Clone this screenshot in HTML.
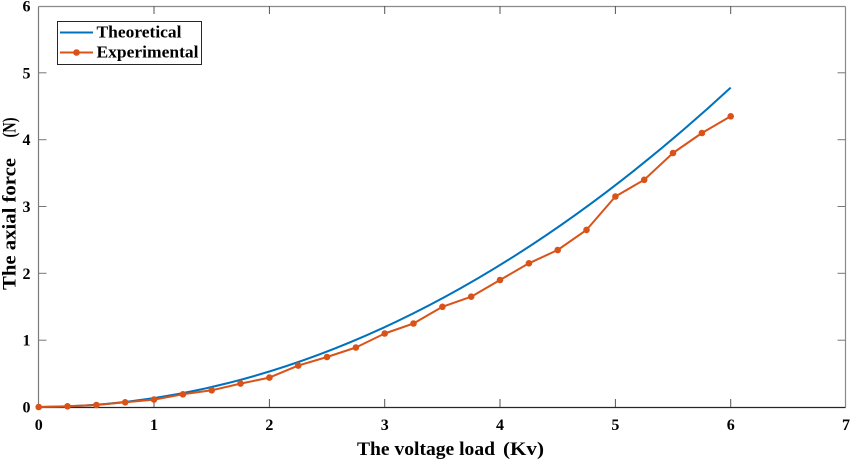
<!DOCTYPE html>
<html>
<head>
<meta charset="utf-8">
<style>
  html,body{margin:0;padding:0;background:#fff;}
  svg{display:block;}
  text{font-family:"Liberation Serif","Times New Roman",serif;font-weight:bold;fill:#000;}
</style>
</head>
<body>
<svg width="850" height="461" viewBox="0 0 850 461" xmlns="http://www.w3.org/2000/svg">
  <rect x="0" y="0" width="850" height="461" fill="#fff"/>
  <!-- box -->
  <line x1="38.5" y1="6.5" x2="845.5" y2="6.5" stroke="#8a8a8a" stroke-width="1.2"/>
  <line x1="845.5" y1="6.5" x2="845.5" y2="407.5" stroke="#8a8a8a" stroke-width="1.2"/>
  <line x1="38.5" y1="6.5" x2="38.5" y2="407.5" stroke="#7a7a7a" stroke-width="1.2"/>
  <line x1="38.5" y1="407.5" x2="845.5" y2="407.5" stroke="#262626" stroke-width="1.2"/>
  <!-- x ticks bottom & top -->
  <g stroke="#555" stroke-width="1">
    <line x1="154" y1="407" x2="154" y2="399"/>
    <line x1="269.4" y1="407" x2="269.4" y2="399"/>
    <line x1="384.7" y1="407" x2="384.7" y2="399"/>
    <line x1="500" y1="407" x2="500" y2="399"/>
    <line x1="615.4" y1="407" x2="615.4" y2="399"/>
    <line x1="730.7" y1="407" x2="730.7" y2="399"/>
    <line x1="154" y1="6" x2="154" y2="14"/>
    <line x1="269.4" y1="6" x2="269.4" y2="14"/>
    <line x1="384.7" y1="6" x2="384.7" y2="14"/>
    <line x1="500" y1="6" x2="500" y2="14"/>
    <line x1="615.4" y1="6" x2="615.4" y2="14"/>
    <line x1="730.7" y1="6" x2="730.7" y2="14"/>
  </g>
  <!-- y ticks left & right -->
  <g stroke="#777" stroke-width="1">
    <line x1="38.5" y1="340.2" x2="46.5" y2="340.2"/>
    <line x1="38.5" y1="273.3" x2="46.5" y2="273.3"/>
    <line x1="38.5" y1="206.5" x2="46.5" y2="206.5"/>
    <line x1="38.5" y1="139.7" x2="46.5" y2="139.7"/>
    <line x1="38.5" y1="72.8" x2="46.5" y2="72.8"/>
    <line x1="845.5" y1="340.2" x2="837.5" y2="340.2"/>
    <line x1="845.5" y1="273.3" x2="837.5" y2="273.3"/>
    <line x1="845.5" y1="206.5" x2="837.5" y2="206.5"/>
    <line x1="845.5" y1="139.7" x2="837.5" y2="139.7"/>
    <line x1="845.5" y1="72.8" x2="837.5" y2="72.8"/>
  </g>
  <!-- x tick labels -->
  <g font-size="16" text-anchor="middle">
    <text x="38.7" y="430">0</text>
    <text x="154" y="430">1</text>
    <text x="269.4" y="430">2</text>
    <text x="384.7" y="430">3</text>
    <text x="500" y="430">4</text>
    <text x="615.4" y="430">5</text>
    <text x="730.7" y="430">6</text>
    <text x="846" y="430">7</text>
  </g>
  <!-- y tick labels -->
  <g font-size="16" text-anchor="end">
    <text x="30.5" y="412.5">0</text>
    <text x="30.5" y="345.7">1</text>
    <text x="30.5" y="278.8">2</text>
    <text x="30.5" y="212">3</text>
    <text x="30.5" y="145.2">4</text>
    <text x="30.5" y="78.3">5</text>
    <text x="30.5" y="11.5">6</text>
  </g>
  <!-- axis labels -->
  <text x="357" y="455" font-size="19" textLength="138" lengthAdjust="spacingAndGlyphs">The voltage load</text>
  <text x="503" y="455" font-size="19" textLength="41" lengthAdjust="spacingAndGlyphs">(Kv)</text>
  <text transform="translate(15.5,290) rotate(-90)" font-size="19" textLength="132" lengthAdjust="spacingAndGlyphs">The axial force</text>
  <text transform="translate(15.5,137.5) rotate(-90)" font-size="19" textLength="20" lengthAdjust="spacingAndGlyphs">(N)</text>
  <!-- theoretical: exact parabola -->
  <path d="M38.7,407 Q384.7,407 730.7,87.6" fill="none" stroke="#0072BD" stroke-width="2"/>
  <!-- experimental -->
  <polyline fill="none" stroke="#D95319" stroke-width="2" stroke-linejoin="round"
    points="38.7,407 67.5,406.3 96.4,405 125.2,402.3 154,399.6 182.9,394.3 211.7,390.3 240.5,383.6 269.4,377.6 298.2,365.6 327,357 355.9,347.5 384.7,333.5 413.5,323.5 442.4,306.8 471.2,296.7 500,280 528.9,263.3 557.7,250 586.5,229.9 615.4,196.5 644.2,179.8 673,153 701.9,133 730.7,116.3"/>
  <g fill="#D95319">
    <circle cx="38.7" cy="407" r="3.3"/>
    <circle cx="67.5" cy="406.3" r="3.3"/>
    <circle cx="96.4" cy="405" r="3.3"/>
    <circle cx="125.2" cy="402.3" r="3.3"/>
    <circle cx="154" cy="399.6" r="3.3"/>
    <circle cx="182.9" cy="394.3" r="3.3"/>
    <circle cx="211.7" cy="390.3" r="3.3"/>
    <circle cx="240.5" cy="383.6" r="3.3"/>
    <circle cx="269.4" cy="377.6" r="3.3"/>
    <circle cx="298.2" cy="365.6" r="3.3"/>
    <circle cx="327" cy="357" r="3.3"/>
    <circle cx="355.9" cy="347.5" r="3.3"/>
    <circle cx="384.7" cy="333.5" r="3.3"/>
    <circle cx="413.5" cy="323.5" r="3.3"/>
    <circle cx="442.4" cy="306.8" r="3.3"/>
    <circle cx="471.2" cy="296.7" r="3.3"/>
    <circle cx="500" cy="280" r="3.3"/>
    <circle cx="528.9" cy="263.3" r="3.3"/>
    <circle cx="557.7" cy="250" r="3.3"/>
    <circle cx="586.5" cy="229.9" r="3.3"/>
    <circle cx="615.4" cy="196.5" r="3.3"/>
    <circle cx="644.2" cy="179.8" r="3.3"/>
    <circle cx="673" cy="153" r="3.3"/>
    <circle cx="701.9" cy="133" r="3.3"/>
    <circle cx="730.7" cy="116.3" r="3.3"/>
  </g>
  <!-- legend -->
  <rect x="57.5" y="21.5" width="144" height="43" fill="#fff" stroke="#262626" stroke-width="1"/>
  <line x1="60" y1="32.5" x2="93" y2="32.5" stroke="#0072BD" stroke-width="2"/>
  <line x1="60" y1="52.5" x2="93" y2="52.5" stroke="#D95319" stroke-width="2"/>
  <circle cx="76.5" cy="52.5" r="3.3" fill="#D95319"/>
  <text x="96.5" y="37.5" font-size="17" textLength="85" lengthAdjust="spacingAndGlyphs">Theoretical</text>
  <text x="96.5" y="57.5" font-size="17" textLength="102" lengthAdjust="spacingAndGlyphs">Experimental</text>
</svg>
</body>
</html>
